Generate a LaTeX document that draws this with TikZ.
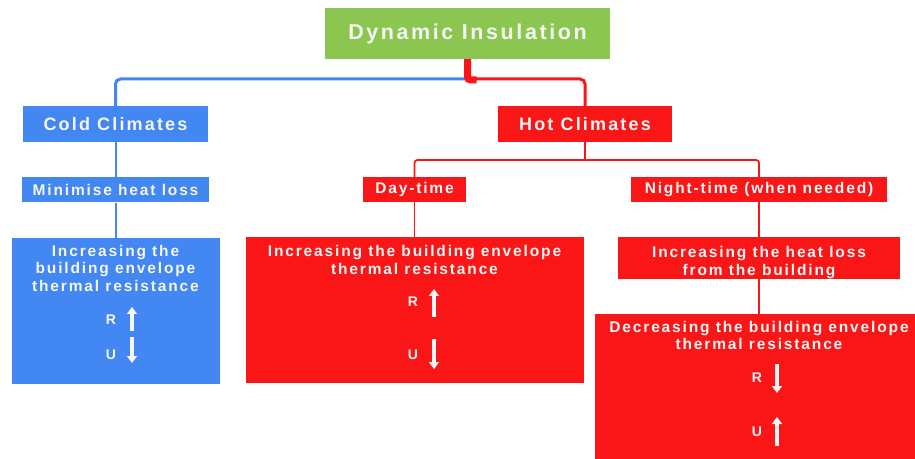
\documentclass[tikz,border=0pt]{standalone}
\usepackage{fontspec}
\setmainfont{Liberation Sans}[LetterSpace=12]
\usetikzlibrary{arrows.meta, positioning}
\definecolor{rootgreen}{RGB}{139,198,80}
\definecolor{coldblue}{RGB}{66,135,242}
\definecolor{hotred}{RGB}{250,22,22}
\definecolor{boxtext}{RGB}{246,246,246}

\begin{document}
\begin{tikzpicture}[
    x=1pt, y=1pt,
    node distance=35pt,
    rootbox/.style={rectangle, fill=rootgreen, text=boxtext, minimum width=285pt, minimum height=51pt, font=\bfseries\fontsize{21.5}{25}\selectfont},
    climbox/.style={rectangle, text=boxtext, minimum height=36pt, inner sep=0pt, font=\bfseries\fontsize{18}{22}\selectfont},
    tagbox/.style={rectangle, text=boxtext, minimum height=25pt, inner sep=0pt, font=\bfseries\fontsize{15.5}{18}\selectfont},
    bigbox/.style={rectangle, minimum height=146pt},
    headtext/.style={text=boxtext, align=center, inner sep=2pt, font=\bfseries\fontsize{15.5}{17.5}\selectfont},
    rutext/.style={text=boxtext, inner sep=0pt, font=\bfseries\fontsize{14}{16}\selectfont},
    rarrow/.style={boxtext, line width=3.4pt, -{Triangle[width=10pt,length=7pt]}},
    blueline/.style={coldblue, line width=2pt},
    redline/.style={hotred, line width=1.8pt}
]
\useasboundingbox (0,0) rectangle (915,458);

% top of the tree
\node[rootbox] (root) at (467.5,424.5) {Dynamic Insulation};
\node[climbox, fill=coldblue, minimum width=185pt] (cold) at (115.5,334) {Cold Climates};
\node[climbox, fill=hotred, minimum width=174pt] (hot) at (585,334) {Hot Climates};
\coordinate (split) at (467.5,379);

\draw[blueline, line width=3pt, rounded corners=5pt] (split) -| (cold.north);
\draw[redline, line width=3pt, rounded corners=5pt] (split) -| (hot.north);
\draw[hotred, line width=7pt, rounded corners=3pt] (root.south) -- ([yshift=-1pt]split) -- ++(9,0);

% cold branch
\node[tagbox, fill=coldblue, minimum width=187pt, below=of cold] (minim) {Minimise heat loss};
\node[bigbox, fill=coldblue, minimum width=208pt, below=of minim] (coldbig) {};
\node[headtext, below=5pt of coldbig.north] (coldhead) {Increasing the\\building envelope\\thermal resistance};
\node[rutext] (coldr) at (111,138) {R};
\node[rutext] (coldu) at (111,103) {U};

\draw[blueline] (cold) -- (minim);
\draw[blueline] (minim) -- (coldbig);
\draw[rarrow] ([xshift=21pt,yshift=-11pt]coldr.center) -- ([xshift=21pt,yshift=13pt]coldr.center);
\draw[rarrow] ([xshift=21pt,yshift=18pt]coldu.center) -- ([xshift=21pt,yshift=-8pt]coldu.center);

% hot branch
\coordinate (hsplit) at (585,298);
\node[tagbox, fill=hotred, minimum width=103pt] (day) at (414.5,268.5) {Day-time};
\node[tagbox, fill=hotred, minimum width=256pt] (night) at (759,268.5) {Night-time (when needed)};
\node[bigbox, fill=hotred, minimum width=338pt, below=of day] (daybig) {};
\node[headtext, below=6pt of daybig.north] (dayhead) {Increasing the building envelope\\thermal resistance};
\node[rutext] (dayr) at (413,156) {R};
\node[rutext] (dayu) at (413,103) {U};
\node[tagbox, fill=hotred, minimum width=282pt, minimum height=41pt, align=center, font=\bfseries\fontsize{15.5}{18}\selectfont, below=of night] (nightloss) {\rule{0pt}{20pt}Increasing the heat loss\\from the building};
\node[bigbox, fill=hotred, minimum width=328pt, minimum height=160pt, below=of nightloss] (decr) {};
\node[headtext, below=5pt of decr.north] (decrhead) {Decreasing the building envelope\\thermal resistance};
\node[rutext] (decrr) at (757,80) {R};
\node[rutext] (decru) at (757,26) {U};

\draw[redline] (hot) -- (hsplit);
\draw[redline, rounded corners=3pt] (day.north) |- (hsplit) -| (night.north);
\draw[redline] (day) -- (daybig);
\draw[redline] (night) -- (nightloss);
\draw[redline] (nightloss) -- (decr);
\draw[rarrow] ([xshift=21pt,yshift=-15pt]dayr.center) -- ([xshift=21pt,yshift=13pt]dayr.center);
\draw[rarrow] ([xshift=21pt,yshift=16pt]dayu.center) -- ([xshift=21pt,yshift=-14pt]dayu.center);
\draw[rarrow] ([xshift=20pt,yshift=14pt]decrr.center) -- ([xshift=20pt,yshift=-15pt]decrr.center);
\draw[rarrow] ([xshift=20pt,yshift=-14pt]decru.center) -- ([xshift=20pt,yshift=15pt]decru.center);

\end{tikzpicture}
\end{document}
